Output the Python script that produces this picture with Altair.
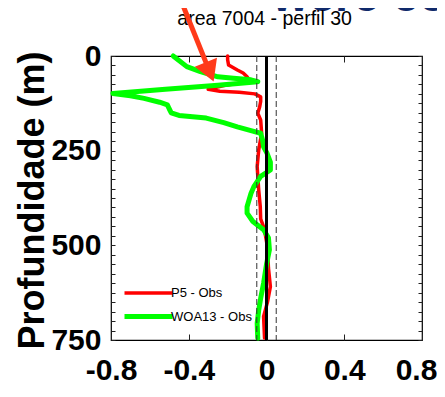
import altair as alt
import pandas as pd

# ---- data ----
series_names = ["P5 - Obs", "WOA13 - Obs"]
series_colors = ["#ff0000", "#00ff00"]
series_widths = [3.5, 5]

red_depth = [0, 10, 24, 37, 45, 55, 62, 70, 78, 88, 93, 96, 100, 108, 120, 134, 151, 169, 204,
             248, 292, 354, 398, 430, 451, 475, 504, 560, 609, 650, 688, 745]
red_value = [-0.20, -0.20, -0.195, -0.15, -0.12, -0.10, -0.09, -0.12, -0.22, -0.30, -0.24, -0.14,
             -0.06, -0.03, -0.03, -0.035, -0.045, -0.03, -0.025, -0.04, -0.048, -0.04, -0.032,
             -0.03, -0.015, -0.005, 0.005, 0.01, 0.02, 0.005, -0.015, -0.01]

green_depth = [0, 28, 41, 55, 59, 63, 68, 77, 88, 99, 105, 112, 122, 129, 140, 150, 157, 164, 176,
               187, 197, 204, 222, 240, 257, 280, 301, 318, 345, 363, 398, 415, 437, 459, 480,
               512, 550, 600, 640, 671, 706, 745]
green_value = [-0.48, -0.41, -0.34, -0.25, -0.17, -0.08, -0.045, -0.25, -0.52, -0.79, -0.70,
               -0.63, -0.55, -0.51, -0.50, -0.49, -0.45, -0.31, -0.22, -0.15, -0.08, -0.03,
               -0.02, -0.015, 0.003, 0.02, 0.02, -0.03, -0.065, -0.08, -0.10, -0.10, -0.07,
               -0.015, 0.01, 0.015, 0.0, -0.015, -0.03, -0.04, -0.048, -0.045]

x_ticks = [-0.8, -0.4, 0, 0.4, 0.8]
y_ticks = list(range(0, 751, 25))
zero_line = [0.0]
dash_lines = [-0.05, 0.05]

y_title = "Profundidade (m)"

# texts placed above the panel, in data units
title_text = ["area 7004 - perfil 30"]
title_x = [-0.01]
title_depth = [-82]
note_text = ["were co"]
note_x = [0.03]
note_depth = [-118]

# red arrow of the slide, in data units
arrow_x = [-0.441, -0.292]
arrow_depth = [-148, 42]

# ---- tables ----
rows = []
for name, deps, vals in [(series_names[0], red_depth, red_value),
                         (series_names[1], green_depth, green_value)]:
    for i, (d, v) in enumerate(zip(deps, vals)):
        rows.append({"series": name, "depth": d, "value": v, "idx": i})
df = pd.DataFrame(rows)

xscale = alt.Scale(domain=[-0.8, 0.8], nice=False, zero=False)
yscale = alt.Scale(domain=[0, 750], reverse=True, nice=False, zero=False)

FONT = "Liberation Sans"

x_axis = alt.Axis(orient="bottom", values=x_ticks, title=None, grid=False, domain=False,
                  tickSize=6, offset=-6, tickColor="#222", labelFont=FONT,
                  labelFontSize=30, labelFontWeight="bold", labelColor="black",
                  labelPadding=15, labelFlush=False, labelOverlap=False,
                  labelOffset=alt.condition("datum.value == 0.8", alt.value(-6), alt.value(0)),
                  labelExpr="datum.value == 0 ? '0' : (datum.value < 0 ? '-' : '') + format(abs(datum.value), '.1f')")
y_axis = alt.Axis(orient="left", values=y_ticks, title=y_title, grid=False, domain=False,
                  tickSize=4, offset=-4, tickColor="#222", labelFont=FONT,
                  labelFontSize=30, labelFontWeight="bold", labelColor="black",
                  labelPadding=10, labelFlush=False, labelOverlap=False,
                  labelBaseline="middle",
                  labelExpr="datum.value % 250 == 0 ? datum.label : ''",
                  titleFont=FONT, titleFontSize=36, titleFontWeight="bold",
                  titleColor="black", titleX=-83, titleY=144, titleBaseline="middle",
                  titleAlign="center")

lines = alt.Chart(df).mark_line(strokeCap="round", strokeJoin="round").encode(
    x=alt.X("value:Q", scale=xscale, axis=x_axis),
    y=alt.Y("depth:Q", scale=yscale, axis=y_axis),
    color=alt.Color("series:N", scale=alt.Scale(domain=series_names, range=series_colors),
                    legend=alt.Legend(orient="none", legendX=29, legendY=229, title=None,
                                      padding=0, symbolType="M-4,0H4", symbolSize=144,
                                      symbolStrokeWidth=4, labelFont=FONT,
                                      labelFontSize=13, labelColor="black",
                                      rowPadding=6, labelOffset=14)),
    strokeWidth=alt.StrokeWidth("series:N", scale=alt.Scale(domain=series_names, range=series_widths),
                                legend=None),
    order=alt.Order("idx:Q"),
)

frame_axes = alt.Chart(df).mark_point(opacity=0).encode(
    x=alt.X("value:Q", scale=xscale,
            axis=alt.Axis(orient="top", values=x_ticks, labels=False, title=None, grid=False,
                          domain=False, tickSize=6, offset=-6, tickColor="#222")),
    y=alt.Y("depth:Q", scale=yscale,
            axis=alt.Axis(orient="right", values=y_ticks, labels=False, title=None, grid=False,
                          domain=False, tickSize=4, offset=-4, tickColor="#222")),
)

zero = alt.Chart(pd.DataFrame({"x": zero_line})).mark_rule(color="black", strokeWidth=3).encode(
    x=alt.X("x:Q", scale=xscale, axis=None))

dashes = alt.Chart(pd.DataFrame({"x": dash_lines})).mark_rule(
    color="#333", strokeWidth=1, strokeDash=[6, 3]).encode(
    x=alt.X("x:Q", scale=xscale, axis=None))

arrow_df = pd.DataFrame({"x0": [arrow_x[0]], "y0": [arrow_depth[0]],
                         "x1": [arrow_x[1]], "y1": [arrow_depth[1]]})
arrow_line = alt.Chart(arrow_df).mark_rule(color="#ff3a1a", strokeWidth=5).encode(
    x=alt.X("x0:Q", scale=xscale, axis=None), y=alt.Y("y0:Q", scale=yscale, axis=None),
    x2="x1:Q", y2="y1:Q")
arrow_head = alt.Chart(arrow_df).mark_point(shape="triangle-up", angle=158, size=576,
                                            filled=True, opacity=1, color="#ff3a1a").encode(
    x=alt.X("x1:Q", scale=xscale, axis=None), y=alt.Y("y1:Q", scale=yscale, axis=None))

title_mark = alt.Chart(pd.DataFrame({"t": title_text, "x": title_x, "y": title_depth})).mark_text(
    align="center", baseline="alphabetic", font=FONT, fontSize=19.5, color="black").encode(
    x=alt.X("x:Q", scale=xscale, axis=None), y=alt.Y("y:Q", scale=yscale, axis=None),
    text="t:N")

note = alt.Chart(pd.DataFrame({"t": note_text, "x": note_x, "y": note_depth})).mark_text(
    align="left", baseline="alphabetic", font=FONT, fontSize=47,
    fontWeight="bold", color="#102a6b").encode(
    x=alt.X("x:Q", scale=xscale, axis=None), y=alt.Y("y:Q", scale=yscale, axis=None),
    text="t:N")

chart = alt.layer(lines, frame_axes, dashes, zero, note, title_mark, arrow_line, arrow_head).resolve_axis(
    x="independent", y="independent"
).properties(
    width=311, height=284,
    autosize=alt.AutoSizeParams(type="none"),
    padding={"left": 103, "top": 48, "right": 15, "bottom": 45},
).configure_view(stroke="black", strokeWidth=1.2)

chart.save("out.html", embed_options={"renderer": "svg", "actions": False})
